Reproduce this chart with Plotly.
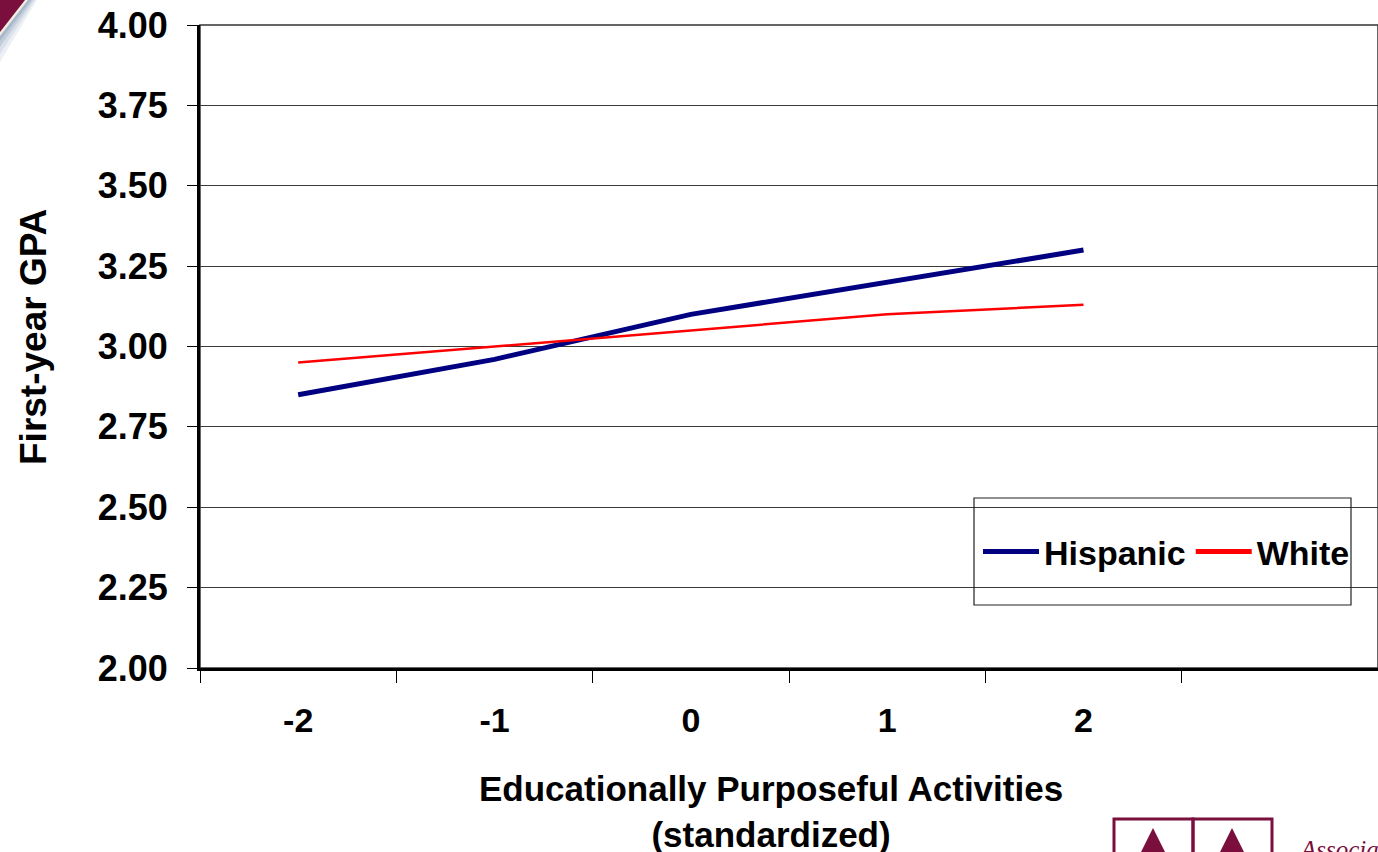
import plotly.graph_objects as go

# Standardized educationally purposeful activities score (x) vs. first-year GPA
activity_levels = [-2, -1, 0, 1, 2]
activity_labels = ["-2", "-1", "0", "1", "2"]
gpa_hispanic = [2.85, 2.96, 3.10, 3.20, 3.30]
gpa_white = [2.95, 3.00, 3.05, 3.10, 3.13]
gpa_ticks = [2.00, 2.25, 2.50, 2.75, 3.00, 3.25, 3.50, 3.75, 4.00]

W, H = 1378, 852
L, R, T, B = 200, 0, 25, 184
PW, PH = W - L - R, H - T - B

MAROON = "#7a0e3c"
BOLD_FONT = "Liberation Sans, Arial, sans-serif"
NARROW_FONT = "Liberation Sans Narrow, Arial Narrow, Liberation Sans, sans-serif"


def px(x):
    """Horizontal pixel -> paper coordinate."""
    return (x - L) / PW


def py(y):
    """Vertical pixel (from top) -> paper coordinate."""
    return (H - B - y) / PH


def corner(xe, ye, fill):
    """Triangle in the top-left corner reaching xe along the top and ye down the side."""
    return dict(type="path", xref="paper", yref="paper",
                path=f"M {px(0)},{py(0)} L {px(xe)},{py(0)} L {px(0)},{py(ye)} Z",
                fillcolor=fill, line=dict(width=0))


fig = go.Figure()
fig.add_trace(go.Scatter(
    x=activity_levels, y=gpa_hispanic, name="Hispanic", mode="lines",
    line=dict(color="#000080", width=5),
))
fig.add_trace(go.Scatter(
    x=activity_levels, y=gpa_white, name="White", mode="lines",
    line=dict(color="#ff0000", width=2.5),
))

# category boundaries carry the tick marks, labels sit in the middle of each slot
slot_edges = [v - 0.5 for v in activity_levels] + [activity_levels[-1] + 0.5, activity_levels[-1] + 1.5]

shapes = [
    # plot area frame
    dict(type="rect", xref="paper", yref="paper", x0=0, x1=1, y0=0, y1=1,
         line=dict(color="#333333", width=1.5), layer="below"),
    # legend frame
    dict(type="rect", xref="paper", yref="paper",
         x0=px(974), x1=px(1351), y0=py(605), y1=py(498),
         line=dict(color="#222222", width=1.2)),
    # corner ornament: soft shadow, cream highlight, maroon wedge
    corner(37, 62, "rgba(150,170,195,0.18)"),
    corner(35, 54, "rgba(150,170,195,0.22)"),
    corner(33, 47, "rgba(140,160,188,0.30)"),
    corner(31, 41, "rgba(130,152,182,0.40)"),
    corner(28, 36, "#f4eedf"),
    corner(25, 32, MAROON),
    # logo boxes
    dict(type="rect", xref="paper", yref="paper",
         x0=px(1114), x1=px(1193), y0=py(860), y1=py(819),
         line=dict(color=MAROON, width=3)),
    dict(type="rect", xref="paper", yref="paper",
         x0=px(1193), x1=px(1272), y0=py(860), y1=py(819),
         line=dict(color=MAROON, width=3)),
    dict(type="path", xref="paper", yref="paper",
         path=f"M {px(1137)},{py(860)} L {px(1153)},{py(828)} L {px(1169)},{py(860)} Z",
         fillcolor=MAROON, line=dict(width=0)),
    dict(type="path", xref="paper", yref="paper",
         path=f"M {px(1216)},{py(860)} L {px(1232)},{py(828)} L {px(1248)},{py(860)} Z",
         fillcolor=MAROON, line=dict(width=0)),
]

annotations = [
    dict(text="First-year GPA", xref="paper", yref="paper", x=px(33), y=py(337),
         textangle=-90, showarrow=False, xanchor="center", yanchor="middle",
         font=dict(family=BOLD_FONT, size=37, color="black", weight="bold")),
    dict(text="Educationally Purposeful Activities<br>(standardized)",
         xref="paper", yref="paper", x=px(771), y=py(811),
         showarrow=False, xanchor="center", yanchor="middle",
         font=dict(family=NARROW_FONT, size=35, color="black", weight="bold")),
    dict(text="Association", xref="paper", yref="paper", x=px(1297), y=py(834),
         showarrow=False, xanchor="left", yanchor="top",
         font=dict(family="Liberation Serif, serif", size=25, color=MAROON, style="italic")),
]

fig.update_layout(
    width=W, height=H,
    margin=dict(l=L, r=R, t=T, b=B, pad=0),
    paper_bgcolor="white", plot_bgcolor="white",
    showlegend=True,
    legend=dict(
        orientation="h", x=px(978), y=py(552), xanchor="left", yanchor="middle",
        bgcolor="rgba(0,0,0,0)", borderwidth=0, itemwidth=56,
        font=dict(family=BOLD_FONT, size=34, color="black", weight="bold"),
        tracegroupgap=0, itemsizing="constant",
    ),
    xaxis=dict(
        range=[slot_edges[0], slot_edges[-1]],
        tickvals=activity_levels, ticktext=activity_labels,
        ticks="", showgrid=False, zeroline=False,
        showline=True, linecolor="black", linewidth=3,
        ticklabelstandoff=20,
        tickfont=dict(family=NARROW_FONT, size=34, color="black", weight="bold"),
        minor=dict(tickvals=slot_edges, ticks="outside", ticklen=12,
                   tickcolor="black", tickwidth=1.2, showgrid=False),
    ),
    yaxis=dict(
        range=[2.0, 4.0], tickvals=gpa_ticks,
        ticktext=[f"{v:.2f}" for v in gpa_ticks],
        ticks="outside", ticklen=10, tickcolor="black", tickwidth=1.2,
        showgrid=True, gridcolor="#3a3a3a", gridwidth=1.2, zeroline=False,
        showline=True, linecolor="black", linewidth=3,
        ticklabelstandoff=12,
        tickfont=dict(family=BOLD_FONT, size=36, color="black", weight="bold"),
    ),
    shapes=shapes,
    annotations=annotations,
)

fig.write_html("out.html")
